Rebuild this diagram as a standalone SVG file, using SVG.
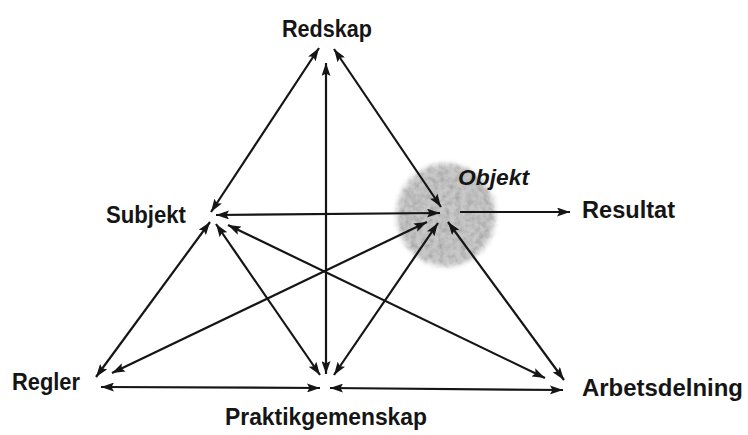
<svg xmlns="http://www.w3.org/2000/svg" width="748" height="435" viewBox="0 0 748 435">
<style>
  .lbl { font-family: "Liberation Sans", Arial, sans-serif; font-weight: bold; font-size: 23px; fill: #151515; }
  .obj { font-style: italic; font-size: 22px; }
  .con line { stroke: #151515; stroke-width: 2.2; fill: none; marker-start: url(#ah); marker-end: url(#ah); }
  .con line.one { marker-start: none; }
</style>
<defs>
  <marker id="ah" viewBox="0 0 13 9" refX="13" refY="4.5" markerWidth="13" markerHeight="9" markerUnits="userSpaceOnUse" orient="auto-start-reverse">
    <path d="M0,0 L13,4.5 L0,9 L2.5,4.5 z" fill="#151515"/>
  </marker>
  <filter id="grain" x="-20%" y="-20%" width="140%" height="140%">
    <feTurbulence type="fractalNoise" baseFrequency="0.18" numOctaves="3" seed="4" result="n"/>
    <feColorMatrix in="n" type="matrix" values="0 0 0 0 0.35  0 0 0 0 0.35  0 0 0 0 0.35  0 0 0 1.6 -0.55" result="g"/>
    <feGaussianBlur in="SourceGraphic" stdDeviation="2.5" result="b"/>
    <feComposite in="g" in2="b" operator="in" result="t"/>
    <feMerge><feMergeNode in="b"/><feMergeNode in="t"/></feMerge>
  </filter>
</defs>
<rect width="748" height="435" fill="#ffffff"/>

<g id="node-objekt">
  <ellipse cx="446" cy="215" rx="49" ry="51" fill="#c8c8c8" filter="url(#grain)"/>
  <text class="lbl obj" x="458" y="185" textLength="71" lengthAdjust="spacingAndGlyphs">Objekt</text>
</g>

<g id="connectors" class="con">
  <line x1="319" y1="48" x2="211" y2="212"/>
  <line x1="210" y1="222" x2="96" y2="377"/>
  <line x1="334" y1="49" x2="441" y2="207"/>
  <line x1="448" y1="222" x2="564" y2="380"/>
  <line x1="326" y1="63" x2="326" y2="374"/>
  <line x1="216" y1="215" x2="440" y2="213"/>
  <line x1="216" y1="224" x2="320" y2="375"/>
  <line x1="228" y1="225" x2="545" y2="378"/>
  <line x1="427" y1="222" x2="112" y2="373"/>
  <line x1="438" y1="223" x2="334" y2="375"/>
  <line x1="101" y1="387" x2="320" y2="388"/>
  <line x1="330" y1="388" x2="563" y2="390"/>
  <line class="one" x1="460" y1="212" x2="570" y2="212"/>
</g>

<g id="node-redskap"><text class="lbl" x="282" y="37" textLength="90" lengthAdjust="spacingAndGlyphs">Redskap</text></g>
<g id="node-subjekt"><text class="lbl" x="106" y="223" textLength="80" lengthAdjust="spacingAndGlyphs">Subjekt</text></g>
<g id="node-resultat"><text class="lbl" x="582" y="218" textLength="93" lengthAdjust="spacingAndGlyphs">Resultat</text></g>
<g id="node-regler"><text class="lbl" x="12" y="390" textLength="68" lengthAdjust="spacingAndGlyphs">Regler</text></g>
<g id="node-praktikgemenskap"><text class="lbl" x="225" y="425" textLength="202" lengthAdjust="spacingAndGlyphs">Praktikgemenskap</text></g>
<g id="node-arbetsdelning"><text class="lbl" x="582" y="396" textLength="161" lengthAdjust="spacingAndGlyphs">Arbetsdelning</text></g>
</svg>
